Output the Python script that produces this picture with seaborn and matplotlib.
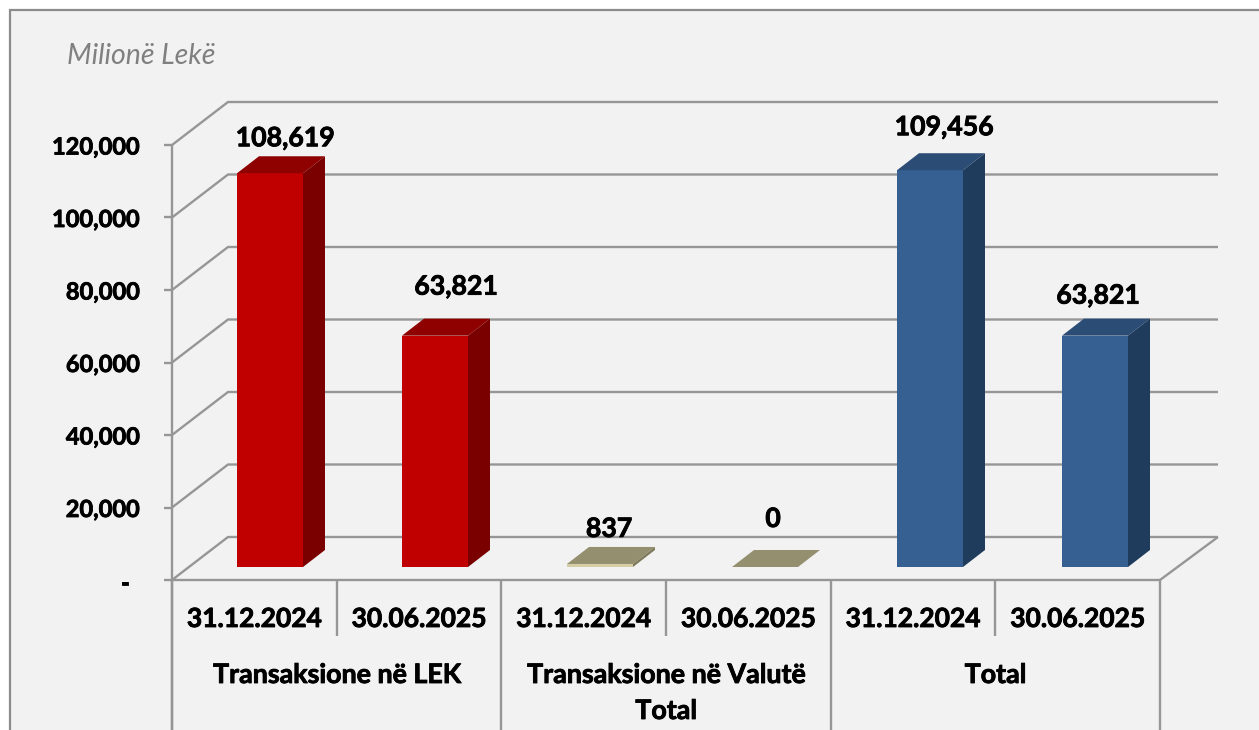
import pandas as pd
import seaborn as sns
import matplotlib.pyplot as plt
import matplotlib.patheffects as pe
from matplotlib.patches import Polygon, Rectangle

# data
dates = ['31.12.2024', '30.06.2025', '31.12.2024', '30.06.2025', '31.12.2024', '30.06.2025']
groups = ['Transaksione në LEK', 'Transaksione në Valutë\nTotal', 'Total']
values = [108619, 63821, 837, 0, 109456, 63821]
value_labels = ['108,619', '63,821', '837', '0', '109,456', '63,821']
y_ticks = [0, 20000, 40000, 60000, 80000, 100000, 120000]
y_tick_labels = ['-', '20,000', '40,000', '60,000', '80,000', '100,000', '120,000']

# colours per group: front, top, side
front_cols = ['#c00000', '#d4cda6', '#366092']
top_cols = ['#8f0000', '#948f6e', '#2b4c75']
side_cols = ['#7a0000', '#7f7a5c', '#203c5c']
grid_col = '#969696'

# layout in pixels of the picture
W, H = 1259, 730
PX_PER_VALUE = 3.625 / 1000
BAR0_X, BAR_STEP, BASE_Y = 270, 165, 567


def px(p):
    return (p - BAR0_X) / BAR_STEP


def py(p):
    return (BASE_Y - p) / PX_PER_VALUE


sns.set_theme(style='white')
plt.rcParams['font.family'] = ['Lato', 'DejaVu Sans']

# a thin stroke brings Lato bold up to the weight of the original labels
heavy = [pe.withStroke(linewidth=0.6, foreground='black')]

fig = plt.figure(figsize=(W / 100, H / 100), dpi=100, facecolor='white')
ax = fig.add_axes([0, 0, 1, 1])
ax.set_facecolor('white')

df = pd.DataFrame({
    'pos': range(6),
    'value': values,
    'group': [g for g in groups for _ in range(2)],
})
sns.barplot(data=df, x='pos', y='value', hue='group', hue_order=groups,
            palette=dict(zip(groups, front_cols)), saturation=1, width=0.4,
            dodge=False, legend=False, ax=ax, zorder=4, linewidth=0)

ax.set_xlim(px(0), px(W))
ax.set_ylim(py(H), py(0))
ax.axis('off')

# chart area with its border, cut by the bottom and right edges
ax.add_patch(Rectangle((px(10), py(H + 20)), px(W + 20) - px(10), py(10) - py(H + 20),
                       fc='#f2f2f2', ec='#8c8c8c', lw=1.6, zorder=0))

line_kw = dict(color=grid_col, lw=1.7, zorder=1, solid_capstyle='butt')
x_front, x_right = 172, 1160
y_zero = 580
wall_x0, wall_x1 = 228, 1218
wall_dy = 43

# grid on the back wall, with the slanted part and a small tick
for v, lab in zip(y_ticks, y_tick_labels):
    y = y_zero - v * PX_PER_VALUE
    ax.plot([px(x_front), px(wall_x0), px(wall_x1)],
            [py(y), py(y - wall_dy), py(y - wall_dy)], **line_kw)
    ax.plot([px(x_front - 8), px(x_front)], [py(y), py(y)], **line_kw)
    if lab == '-':
        ax.text(px(125), py(y + 3), lab, ha='center', va='center', fontsize=17,
                fontweight='bold', color='black', zorder=6, path_effects=heavy)
    else:
        ax.text(px(140), py(y + 2), lab, ha='right', va='center', fontsize=17,
                fontweight='bold', color='black', zorder=6, path_effects=heavy)

# front of the floor and axis
ax.plot([px(x_front), px(x_front)], [py(y_zero - 120000 * PX_PER_VALUE), py(H)], **line_kw)
ax.plot([px(x_front), px(x_right)], [py(y_zero), py(y_zero)], **line_kw)
ax.plot([px(x_right), px(wall_x1)], [py(y_zero), py(y_zero - wall_dy)], **line_kw)

# category separators
cat_w = (x_right - x_front) / 6
for i in range(7):
    x = x_front + i * cat_w
    bottom = H if i % 2 == 0 else 636
    ax.plot([px(x), px(x)], [py(y_zero), py(bottom)], **line_kw)

for i, d in enumerate(dates):
    ax.text(px(x_front + (i + 0.5) * cat_w), py(619), d, ha='center', va='center',
            fontsize=19, fontweight='bold', color='black', zorder=6, path_effects=heavy)

for i, g in enumerate(groups):
    ax.text(px(x_front + (2 * i + 1) * cat_w), py(663), g, ha='center', va='top',
            fontsize=19.3, fontweight='bold', color='black', zorder=6, linespacing=1.6,
            path_effects=heavy)

# depth of the bars: top and side faces from each drawn bar
bars = sorted([b for b in ax.patches if b.get_width() > 0 and b.get_width() < 1], key=lambda b: b.get_x())
dx = 22 / BAR_STEP
dy = 17 / PX_PER_VALUE
for i, b in enumerate(bars):
    g = i // 2
    x0, x1 = b.get_x(), b.get_x() + b.get_width()
    top = b.get_height()
    ax.add_patch(Polygon([(x0, top), (x1, top), (x1 + dx, top + dy), (x0 + dx, top + dy)],
                         fc=top_cols[g], ec='none', zorder=5))
    ax.add_patch(Polygon([(x1, 0), (x1 + dx, dy), (x1 + dx, top + dy), (x1, top)],
                         fc=side_cols[g], ec='none', zorder=5))

# value labels sit at different distances in the original
label_dx = [15, 21, 9, 8, 14, 3]
label_dy = [35, 49, 35, 48, 43, 40]
for i, lab in enumerate(value_labels):
    ax.text(i + label_dx[i] / BAR_STEP, values[i] + label_dy[i] / PX_PER_VALUE, lab,
            ha='center', va='center', fontsize=19.2, fontweight='bold', color='black', zorder=7,
            path_effects=heavy)

ax.text(px(67), py(56), 'Milionë Lekë', ha='left', va='center', fontsize=20.5,
        style='italic', color='#808080', zorder=6)

fig.savefig('out.png', dpi=100)
